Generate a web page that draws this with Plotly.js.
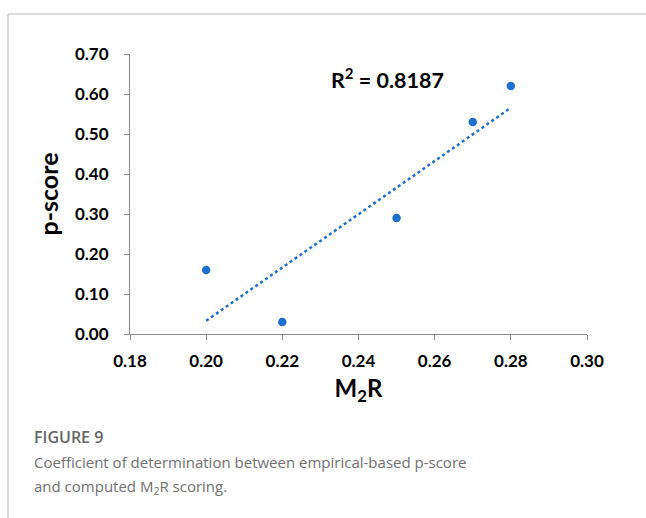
<!DOCTYPE html>
<html><head><meta charset="utf-8">
<script src="https://cdn.plot.ly/plotly-3.0.1.min.js"></script>
<style>html,body{margin:0;padding:0;background:#fff;}#chart{width:646px;height:518px;}</style>
</head><body><div id="chart"></div>
<script>
const m2r = [0.20, 0.22, 0.25, 0.27, 0.28];
const pscore = [0.16, 0.03, 0.29, 0.53, 0.62];
const xTicks = [0.18, 0.20, 0.22, 0.24, 0.26, 0.28, 0.30];
const yTicks = [0, 0.1, 0.2, 0.3, 0.4, 0.5, 0.6, 0.7];

// least-squares trendline over the data range
const n = m2r.length;
const mx = m2r.reduce((a,b)=>a+b,0)/n, my = pscore.reduce((a,b)=>a+b,0)/n;
let sxy=0, sxx=0;
for (let i=0;i<n;i++){ sxy += (m2r[i]-mx)*(pscore[i]-my); sxx += (m2r[i]-mx)**2; }
const slope = sxy/sxx, icpt = my - slope*mx;
const tx = [Math.min(...m2r), Math.max(...m2r)];
const ty = tx.map(v => icpt + slope*v);

const L=130, R=587, T=54, B=334;
const px = v => (v-L)/(R-L), py = v => (B-v)/(B-T);
const blue = '#1f6fcf';
const font = 'Lato, "Open Sans", sans-serif';
const capFont = '"Open Sans", "Noto Sans", sans-serif';

const data = [
  {x: tx, y: ty, mode:'lines', line:{color: blue, width:2.5, dash:'dot'}, hoverinfo:'skip'},
  {x: m2r, y: pscore, mode:'markers', marker:{color: blue, size:8.5}}
];
const layout = {
  width:646, height:518, showlegend:false,
  paper_bgcolor:'#fff', plot_bgcolor:'#fff',
  margin:{l:L, r:646-R, t:T, b:518-B},
  font:{family: font, color:'#000'},
  xaxis:{range:[0.18,0.30], tickvals:xTicks, tickformat:'.2f',
    showgrid:false, zeroline:false, showline:true, linecolor:'#898989', linewidth:1,
    ticks:'outside', ticklen:5, tickcolor:'#898989', ticklabelstandoff:7,
    tickfont:{size:17, family:font, weight:'bold', color:'#000'},
    title:{text:'M<sub>2</sub>R', font:{size:24, family:font, weight:'bold', color:'#000'}, standoff:9}},
  yaxis:{range:[0,0.70], tickvals:yTicks, tickformat:'.2f',
    showgrid:false, zeroline:false, showline:true, linecolor:'#898989', linewidth:1,
    ticks:'outside', ticklen:5, tickcolor:'#898989', ticklabelstandoff:12,
    tickfont:{size:17, family:font, weight:'bold', color:'#000'},
    title:{text:'p-score', font:{size:25, family:font, weight:'bold', color:'#000'}, standoff:9}},
  shapes:[
    {type:'line', xref:'paper', yref:'paper', x0:px(8), x1:px(646), y0:py(14), y1:py(14), line:{color:'#cfcfcf', width:1.5}},
    {type:'line', xref:'paper', yref:'paper', x0:px(8), x1:px(8), y0:py(14), y1:py(518), line:{color:'#cfcfcf', width:1.5}}
  ],
  annotations:[
    {xref:'paper', yref:'paper', x:px(329), y:py(78), xanchor:'left', yanchor:'middle', showarrow:false,
     text:'R<sup>2</sup> = 0.8187', font:{size:21.5, family:font, weight:'bold', color:'#000'}},
    {xref:'paper', yref:'paper', x:px(32), y:py(437), xanchor:'left', yanchor:'middle', showarrow:false,
     text:'FIGURE 9', font:{size:16, family:capFont, weight:600, color:'#666'}},
    {xref:'paper', yref:'paper', x:px(32), y:py(462), xanchor:'left', yanchor:'middle', showarrow:false,
     text:'Coefficient of determination between empirical-based p-score', font:{size:15, family:capFont, color:'#707070'}},
    {xref:'paper', yref:'paper', x:px(32), y:py(487), xanchor:'left', yanchor:'middle', showarrow:false,
     text:'and computed M<sub>2</sub>R scoring.', font:{size:15, family:capFont, color:'#707070'}}
  ]
};
Plotly.newPlot('chart', data, layout, {displayModeBar:false, staticPlot:true});
</script></body></html>
